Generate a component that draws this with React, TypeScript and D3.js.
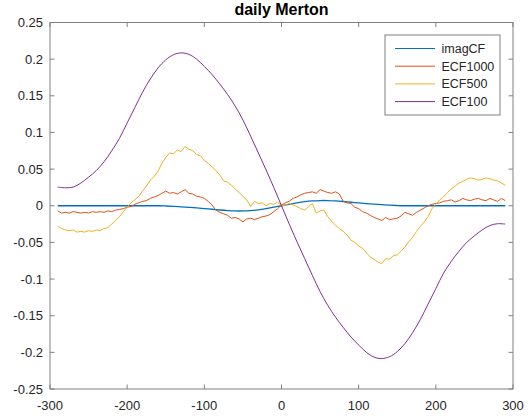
import React from "react";
import * as d3 from "d3";

const TITLE = "daily Merton";
const SERIES_NAMES = ["imagCF", "ECF1000", "ECF500", "ECF100"];
const COLORS = ["#0072BD", "#D95319", "#EDB120", "#7E2F8E"];
const X_TICKS = [-300, -200, -100, 0, 100, 200, 300];
const Y_TICKS = [-0.25, -0.2, -0.15, -0.1, -0.05, 0, 0.05, 0.1, 0.15, 0.2, 0.25];

// sampling grids (u values)
const U_COARSE = d3.range(-290, 291, 10);
const U_FINE = d3.range(-290, 291, 5);

const imagCF = [
  0, 0, 0, 0, 0, 0, 0, 0, 0, 0, 0, 0, 0, 0,
  -0.0003, -0.0008, -0.0015, -0.0022, -0.003, -0.0038, -0.0048, -0.0058, -0.0066, -0.0071,
  -0.0071, -0.0066, -0.0055, -0.0039, -0.002,
  0,
  0.002, 0.0039, 0.0055, 0.0066, 0.0071, 0.0071, 0.0066, 0.0058, 0.0048, 0.0038,
  0.003, 0.0022, 0.0015, 0.0008, 0.0003,
  0, 0, 0, 0, 0, 0, 0, 0, 0, 0, 0, 0, 0, 0,
];

const ECF100 = [
  0.0255, 0.0245, 0.0255, 0.031, 0.039, 0.048, 0.06, 0.075, 0.092, 0.113,
  0.134, 0.155, 0.173, 0.188, 0.199, 0.206, 0.2085, 0.2065, 0.2, 0.19,
  0.179, 0.166, 0.152, 0.136, 0.117, 0.095, 0.072, 0.049, 0.025,
  0,
  -0.025, -0.049, -0.072, -0.095, -0.117, -0.136, -0.152, -0.166, -0.179,
  -0.19, -0.2, -0.2065, -0.2085, -0.206, -0.199, -0.188, -0.173, -0.155, -0.134,
  -0.113, -0.092, -0.076, -0.062, -0.05, -0.041, -0.033, -0.027, -0.0245, -0.025,
];

const ECF500 = [
  // -290 .. -5
  -0.028, -0.031, -0.033, -0.034, -0.033, -0.036, -0.035, -0.036, -0.034, -0.035,
  -0.033, -0.034, -0.031, -0.03, -0.025, -0.02, -0.015, -0.008, -0.002, 0.004,
  0.008, 0.013, 0.02, 0.027, 0.035, 0.04, 0.047, 0.058, 0.066, 0.072,
  0.071, 0.076, 0.074, 0.081, 0.077, 0.075, 0.07, 0.068, 0.062, 0.058,
  0.053, 0.048, 0.042, 0.034, 0.032, 0.028, 0.023, 0.018, 0.013, 0.008,
  -0.001, 0.006, 0.003, 0.004, 0.0, 0.003, 0.002, 0.005,
  // 0
  0.0,
  // 5 .. 290
  0.001, 0.003, 0.001, -0.001, -0.004, -0.006, -0.001, 0.003, -0.01, -0.007,
  -0.006, -0.015, -0.021, -0.027, -0.031, -0.035, -0.04, -0.047, -0.05, -0.055,
  -0.058, -0.064, -0.07, -0.073, -0.077, -0.079, -0.072, -0.073, -0.068, -0.067,
  -0.062, -0.056, -0.049, -0.043, -0.035, -0.028, -0.022, -0.015, -0.004, 0.002,
  0.008, 0.012, 0.018, 0.023, 0.027, 0.031, 0.033, 0.036, 0.038, 0.037,
  0.035, 0.036, 0.038, 0.037, 0.035, 0.034, 0.031, 0.028,
];

const ECF1000 = [
  // -290 .. -5
  -0.007, -0.01, -0.009, -0.01, -0.008, -0.009, -0.01, -0.009, -0.01, -0.008,
  -0.009, -0.008, -0.009, -0.007, -0.008, -0.006, -0.005, -0.004, -0.002, -0.001,
  0.002, 0.004, 0.006, 0.007, 0.01, 0.012, 0.014, 0.017, 0.02, 0.017,
  0.018, 0.016, 0.019, 0.022, 0.017, 0.016, 0.013, 0.012, 0.01, 0.006,
  0.001, -0.006, -0.009, -0.011, -0.013, -0.017, -0.016, -0.018, -0.022, -0.018,
  -0.017, -0.019, -0.017, -0.015, -0.014, -0.012, -0.008, -0.004,
  // 0
  0.001,
  // 5 .. 290
  0.004, 0.006, 0.01, 0.012, 0.015, 0.017, 0.018, 0.019, 0.017, 0.022,
  0.02, 0.018, 0.017, 0.019, 0.016, 0.006, 0.004, 0.003, -0.002, -0.004,
  -0.008, -0.01, -0.013, -0.016, -0.018, -0.02, -0.016, -0.019, -0.018, -0.017,
  -0.014, -0.009, -0.011, -0.013, -0.009, -0.006, -0.003, 0.0, 0.002, 0.003,
  0.004, 0.006, 0.007, 0.008, 0.005, 0.007, 0.01, 0.008, 0.007, 0.009,
  0.01, 0.008, 0.007, 0.01, 0.008, 0.006, 0.01, 0.007,
];

const W = 531;
const H = 419;
const PLOT = { left: 50, right: 513, top: 22.5, bottom: 389 };
const AXIS_COLOR = "#808080";
const TEXT_COLOR = "#262626";
const FONT = "'Liberation Sans', Arial, Helvetica, sans-serif";

export default function App() {
  const x = d3.scaleLinear().domain([-300, 300]).range([PLOT.left, PLOT.right]);
  const y = d3.scaleLinear().domain([-0.25, 0.25]).range([PLOT.bottom, PLOT.top]);

  const lineSmooth = d3
    .line<[number, number]>()
    .x((d) => x(d[0]))
    .y((d) => y(d[1]))
    .curve(d3.curveCatmullRom);
  const lineRaw = d3
    .line<[number, number]>()
    .x((d) => x(d[0]))
    .y((d) => y(d[1]));

  const zip = (us: number[], vs: number[]) =>
    vs.map((v, i) => [us[i], v] as [number, number]);

  const series = [
    { name: SERIES_NAMES[0], color: COLORS[0], d: lineSmooth(zip(U_COARSE, imagCF)), w: 1.3 },
    { name: SERIES_NAMES[1], color: COLORS[1], d: lineRaw(zip(U_FINE, ECF1000)), w: 1 },
    { name: SERIES_NAMES[2], color: COLORS[2], d: lineRaw(zip(U_FINE, ECF500)), w: 1 },
    { name: SERIES_NAMES[3], color: COLORS[3], d: lineSmooth(zip(U_COARSE, ECF100)), w: 1 },
  ];

  const tickLen = 4.5;
  const legend = { x: 385, y: 35, w: 115, h: 80, rowH: 17.7, firstRow: 48.5 };

  return (
    <svg
      width={W}
      height={H}
      style={{ position: "absolute", left: 0, top: 0, display: "block", background: "#fff" }}
      fontFamily={FONT}
    >
      <rect x={0} y={0} width={W} height={H} fill="#fff" />
      <defs>
        <clipPath id="plotclip">
          <rect x={PLOT.left} y={PLOT.top} width={PLOT.right - PLOT.left} height={PLOT.bottom - PLOT.top} />
        </clipPath>
      </defs>

      {/* data lines */}
      <g clipPath="url(#plotclip)">
        {series.map((s) => (
          <path key={s.name} d={s.d || ""} fill="none" stroke={s.color} strokeWidth={s.w} strokeLinejoin="round" />
        ))}
      </g>

      {/* box */}
      <rect
        x={PLOT.left}
        y={PLOT.top}
        width={PLOT.right - PLOT.left}
        height={PLOT.bottom - PLOT.top}
        fill="none"
        stroke={AXIS_COLOR}
        strokeWidth={1}
      />

      {/* x ticks */}
      {X_TICKS.map((t) => (
        <g key={"x" + t}>
          <line x1={x(t)} x2={x(t)} y1={PLOT.bottom} y2={PLOT.bottom - tickLen} stroke={AXIS_COLOR} />
          <line x1={x(t)} x2={x(t)} y1={PLOT.top} y2={PLOT.top + tickLen} stroke={AXIS_COLOR} />
          <text x={x(t)} y={410} textAnchor="middle" fontSize={13} fill={TEXT_COLOR}>
            {String(t)}
          </text>
        </g>
      ))}

      {/* y ticks */}
      {Y_TICKS.map((t) => (
        <g key={"y" + t}>
          <line x1={PLOT.left} x2={PLOT.left + tickLen} y1={y(t)} y2={y(t)} stroke={AXIS_COLOR} />
          <line x1={PLOT.right} x2={PLOT.right - tickLen} y1={y(t)} y2={y(t)} stroke={AXIS_COLOR} />
          <text x={43} y={y(t)} dy="0.36em" textAnchor="end" fontSize={13} fill={TEXT_COLOR}>
            {String(+t.toFixed(2))}
          </text>
        </g>
      ))}

      {/* title */}
      <text x={(PLOT.left + PLOT.right) / 2} y={14.5} textAnchor="middle" fontSize={16} fontWeight="bold" fill="#000">
        {TITLE}
      </text>

      {/* legend */}
      <rect x={legend.x} y={legend.y} width={legend.w} height={legend.h} fill="#fff" stroke={AXIS_COLOR} strokeWidth={1} />
      {series.map((s, i) => {
        const ry = legend.firstRow + i * legend.rowH;
        return (
          <g key={"lg" + s.name}>
            <line x1={395} x2={435} y1={ry} y2={ry} stroke={s.color} strokeWidth={1} />
            <text x={441.5} y={ry} dy="0.36em" fontSize={12.5} fill={TEXT_COLOR}>
              {s.name}
            </text>
          </g>
        );
      })}
    </svg>
  );
}
